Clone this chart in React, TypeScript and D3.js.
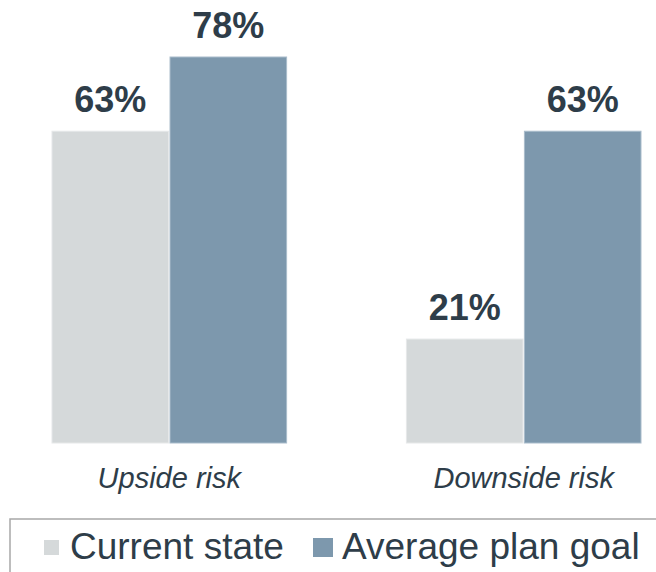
import React from "react";
import * as d3 from "d3";

const categories = ["Upside risk", "Downside risk"];
const seriesNames = ["Current state", "Average plan goal"];
const currentState = [63, 21];
const averagePlanGoal = [78, 63];
const seriesColors = ["#d5d9da", "#7d98ad"];
const seriesStrokes = ["#e6e8e9", "#a9bccb"];

const W = 656;
const H = 572;
const TEXT = "#2e3d49";
const FONT = "'Liberation Sans', Arial, Helvetica, sans-serif";

export default function App() {
  const x = d3.scaleBand<string>().domain(categories).range([52, 641]).paddingInner(0.338).paddingOuter(0);
  const xs = d3.scaleBand<string>().domain(seriesNames).range([0, x.bandwidth()]).paddingInner(0.012);
  const y = d3.scaleLinear().domain([0, 78]).range([443, 57]);
  const values = [currentState, averagePlanGoal];

  return (
    <svg width={W} height={H} style={{ position: "absolute", left: 0, top: 0, background: "#fff" }} fontFamily={FONT}>
      {categories.map((c, ci) => (
        <g key={c} transform={`translate(${x(c)},0)`}>
          {seriesNames.map((s, si) => {
            const v = values[si][ci];
            const bx = xs(s)!;
            const bw = xs.bandwidth();
            return (
              <g key={s}>
                <rect x={bx} y={y(v)} width={bw} height={y(0) - y(v)} fill={seriesColors[si]} stroke={seriesStrokes[si]} strokeWidth={1} />
                <text x={bx + bw / 2} y={y(v) - 19} textAnchor="middle" fontSize={36} fontWeight="bold" fill={TEXT}>
                  {d3.format(".0f")(v) + "%"}
                </text>
              </g>
            );
          })}
          <text x={x.bandwidth() / 2} y={488} textAnchor="middle" fontSize={29} fontStyle="italic" fill={TEXT}>
            {c}
          </text>
        </g>
      ))}
      <rect x={10} y={519} width={W} height={80} fill="none" stroke="#a8a8a8" strokeWidth={1.5} />
      <rect x={44} y={540} width={15} height={15} fill={seriesColors[0]} />
      <text x={70} y={559} fontSize={37} fill={TEXT}>{seriesNames[0]}</text>
      <rect x={313} y={538} width={20} height={19} fill={seriesColors[1]} />
      <text x={342} y={559} fontSize={37} fill={TEXT}>{seriesNames[1]}</text>
    </svg>
  );
}
